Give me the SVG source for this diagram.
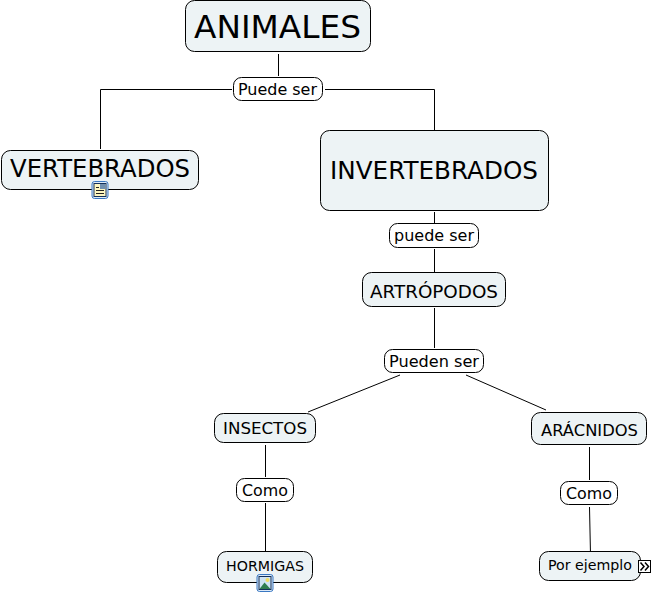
<svg xmlns="http://www.w3.org/2000/svg" width="653" height="595" viewBox="0 0 653 595">
<style>
text{font-family:"DejaVu Sans",Verdana,sans-serif;fill:#000;text-anchor:middle}
.n{fill:#edf3f5;stroke:#000;stroke-width:1}
.l{fill:#fff;stroke:#000;stroke-width:1}
.c{fill:none;stroke:#000;stroke-width:1}
</style>
<rect width="653" height="595" fill="#fff"/>
<g id="connectors">
<path class="c" d="M278.500 54V76"/>
<path class="c" d="M232 89.500H100.500V149"/>
<path class="c" d="M325 89.500H434.500V130"/>
<path class="c" d="M434.500 212V223"/>
<path class="c" d="M434.500 249V272"/>
<path class="c" d="M434.500 308V348"/>
<path class="c" d="M400 375L308 412"/>
<path class="c" d="M466 375L546 410"/>
<path class="c" d="M265.500 445V477"/>
<path class="c" d="M265.500 503V551"/>
<path class="c" d="M589.500 447V480"/>
<path class="c" d="M589.500 507L590.500 555"/>
</g>
<g id="animales"><rect class="n" x="185.500" y="0.500" width="185" height="51" rx="9"/><text x="277.500" y="38" font-size="32.500" textLength="167" lengthAdjust="spacingAndGlyphs">ANIMALES</text></g>
<g id="puede-ser-1"><rect class="l" x="233.500" y="77.500" width="89" height="23" rx="8"/><text x="277.500" y="95" font-size="15.500" textLength="79" lengthAdjust="spacingAndGlyphs">Puede ser</text></g>
<g id="vertebrados"><rect class="n" x="1.500" y="150.500" width="197" height="39" rx="9"/><text x="100" y="177" font-size="24.500" textLength="180" lengthAdjust="spacingAndGlyphs">VERTEBRADOS</text>
<g id="icon-doc"><rect x="92" y="181.500" width="16" height="17" rx="2.500" fill="#dbe9f8" stroke="#3a78c2"/><rect x="94" y="183.500" width="12" height="13" fill="#fdf6c0" stroke="#14305a"/><path d="M96 187.500h3M96 190.500h8M96 193.500h8" stroke="#222"/><rect x="100" y="184" width="5.500" height="5" fill="#6f8fb0"/></g></g>
<g id="invertebrados"><rect class="n" x="320.500" y="130.500" width="228" height="80" rx="9"/><text x="434" y="179" font-size="24.500" textLength="208" lengthAdjust="spacingAndGlyphs">INVERTEBRADOS</text></g>
<g id="puede-ser-2"><rect class="l" x="389.500" y="223.500" width="89" height="24" rx="8"/><text x="434" y="241" font-size="15.500" textLength="80" lengthAdjust="spacingAndGlyphs">puede ser</text></g>
<g id="artropodos"><rect class="n" x="362.500" y="272.500" width="143" height="34" rx="9"/><text x="434" y="298" font-size="18" textLength="128" lengthAdjust="spacingAndGlyphs">ARTRÓPODOS</text></g>
<g id="pueden-ser"><rect class="l" x="384.500" y="349.500" width="99" height="23" rx="8"/><text x="434" y="367" font-size="15.500" textLength="90" lengthAdjust="spacingAndGlyphs">Pueden ser</text></g>
<g id="insectos"><rect class="n" x="214.500" y="413.500" width="101" height="29" rx="9"/><text x="265" y="434" font-size="15.500" textLength="84" lengthAdjust="spacingAndGlyphs">INSECTOS</text></g>
<g id="aracnidos"><rect class="n" x="531.500" y="412.500" width="115" height="32" rx="9"/><text x="589.500" y="436" font-size="15.500" textLength="97" lengthAdjust="spacingAndGlyphs">ARÁCNIDOS</text></g>
<g id="como-1"><rect class="l" x="236.500" y="478.500" width="57" height="23" rx="8"/><text x="265" y="496" font-size="16" textLength="46" lengthAdjust="spacingAndGlyphs">Como</text></g>
<g id="como-2"><rect class="l" x="560.500" y="481.500" width="57" height="23" rx="8"/><text x="589" y="499" font-size="16" textLength="46" lengthAdjust="spacingAndGlyphs">Como</text></g>
<g id="hormigas"><rect class="n" x="217.500" y="551.500" width="95" height="31" rx="9"/><text x="265" y="571" font-size="13.500" textLength="78" lengthAdjust="spacingAndGlyphs">HORMIGAS</text>
<g id="icon-img"><rect x="257" y="574.500" width="16" height="17" rx="2.500" fill="#dbe9f8" stroke="#3a78c2"/><rect x="259" y="576.500" width="12" height="13" fill="#cfe3f2" stroke="#14305a"/><path d="M259.500 589l5-6.500 6 6.500z" fill="#2f7d4f"/><circle cx="267.500" cy="580" r="2" fill="#f0dc60"/></g></g>
<g id="por-ejemplo"><rect class="n" x="539.500" y="551.500" width="101" height="29" rx="9"/><text x="590" y="570" font-size="14" textLength="84" lengthAdjust="spacingAndGlyphs">Por ejemplo</text>
<g id="icon-more"><rect x="638.500" y="560.500" width="12" height="12" fill="#fff" stroke="#000"/><path d="M640.500 562.500l3.500 4-3.500 4M645 562.500l3.500 4-3.500 4" fill="none" stroke="#000" stroke-width="1.500"/></g></g>
</svg>
